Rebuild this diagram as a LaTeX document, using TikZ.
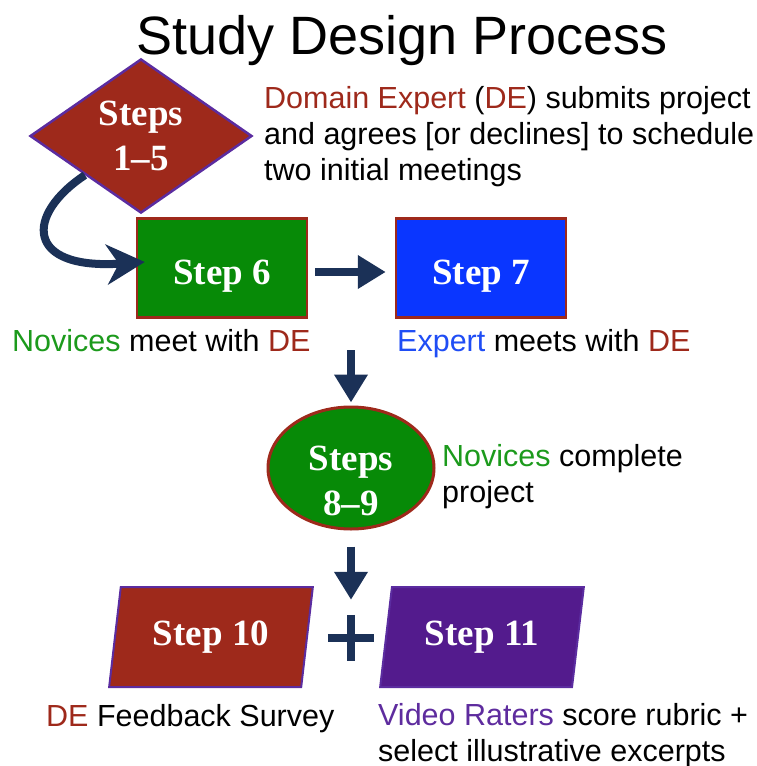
\documentclass[tikz,border=0pt]{standalone}
\usepackage{fontspec}
\setmainfont{Liberation Sans}
\newfontfamily\stepfont[Ligatures=TeX]{Liberation Serif}
\usetikzlibrary{shapes.geometric,arrows.meta}
\definecolor{deRed}{HTML}{9E291B}
\definecolor{edgePurple}{HTML}{5B2CA0}
\definecolor{novGreen}{HTML}{078A07}
\definecolor{novText}{HTML}{1C9A1C}
\definecolor{expBlue}{HTML}{0A36FF}
\definecolor{expText}{HTML}{1F4DF5}
\definecolor{raterPurple}{HTML}{531B8D}
\definecolor{raterText}{HTML}{5E2C9E}
\definecolor{navy}{HTML}{1B3157}
\tikzset{
  stepText/.style={text=white, font=\stepfont\bfseries\fontsize{37}{45}\selectfont, align=center, inner sep=0pt},
  stepBox/.style={stepText, rectangle, draw=deRed, line width=2.5pt, minimum width=170pt, minimum height=99pt},
  stepDiamond/.style={stepText, diamond, fill=deRed, draw=edgePurple, line width=2.5pt, minimum width=222pt, minimum height=137pt},
  stepOval/.style={stepText, ellipse, fill=novGreen, draw=deRed, line width=3pt, inner ysep=-20pt, minimum width=166pt, minimum height=122pt},
  stepSlant/.style={stepText, trapezium, trapezium left angle=77, trapezium right angle=103, trapezium stretches=true, draw=edgePurple, line width=2pt, minimum width=204pt, minimum height=100pt},
  flowArrow/.style={draw=navy, line width=8pt, -{Triangle[length=28pt, width=32pt]}},
  bendArrow/.style={draw=navy, line width=8pt, -{Stealth[length=38pt, width=40pt, inset=12pt]}},
  flowLabel/.style={text=black, font=\fontsize{30.5}{36}\selectfont, align=left, inner sep=0pt, anchor=base west}
}

\begin{document}
\begin{tikzpicture}[x=1pt, y=-1pt]
  \useasboundingbox (0,0) rectangle (757,766);

  \node[font=\fontsize{54}{60}\selectfont, inner sep=0pt, anchor=base] (title) at (402,54) {Study Design Process};

  \node[stepDiamond] (s15) at (141,136) {Steps\\[0pt]1--5};
  \node[stepBox, fill=novGreen] (s6) at (222,268) {\rule{0pt}{40pt}Step 6};
  \node[stepBox, fill=expBlue] (s7) at (481,268) {\rule{0pt}{40pt}Step 7};
  \node[stepOval] (s89) at (351,468) {\rule{0pt}{50pt}Steps\\[0pt]8--9};
  \node[stepSlant, fill=deRed] (s10) at (211,637) {Step 10};
  \node[stepSlant, fill=raterPurple] (s11) at (482,637) {Step 11};

  \node[minimum size=46pt, inner sep=0pt] (plus) at (351,638) {};
  \draw[navy, line width=8pt] (plus.west) -- (plus.east) (plus.north) -- (plus.south);

  % multi-line labels sit on the baseline of their last line
  \node[flowLabel] (t15) at (264,180) {\textcolor{deRed}{Domain Expert} (\textcolor{deRed}{DE}) submits project\\and agrees [or declines] to schedule\\two initial meetings};
  \node[flowLabel] (t6) at (12,351) {\textcolor{novText}{Novices} meet with \textcolor{deRed}{DE}};
  \node[flowLabel] (t7) at (397,351) {\textcolor{expText}{Expert} meets with \textcolor{deRed}{DE}};
  \node[flowLabel] (t89) at (442,502) {\textcolor{novText}{Novices} complete\\project};
  \node[flowLabel] (t10) at (46,726) {\textcolor{deRed}{DE} Feedback Survey};
  \node[flowLabel] (t11) at (378,761) {\textcolor{raterText}{Video Raters} score rubric +\\select illustrative excerpts};

  \coordinate (gap) at (351,350);

  \draw[bendArrow] (s15.south west) .. controls (25,215) and (25,270) .. ([shift={(9,-6)}]s6.west);
  \draw[flowArrow] ([xshift=7pt,yshift=-4pt]s6.east) -- ([xshift=-9pt,yshift=-4pt]s7.west);
  \draw[flowArrow] (gap) -- ([yshift=3pt]s89.north);
  \draw[flowArrow] ([yshift=-16pt]s89.south) -- ([yshift=15pt]plus.north);
\end{tikzpicture}
\end{document}
